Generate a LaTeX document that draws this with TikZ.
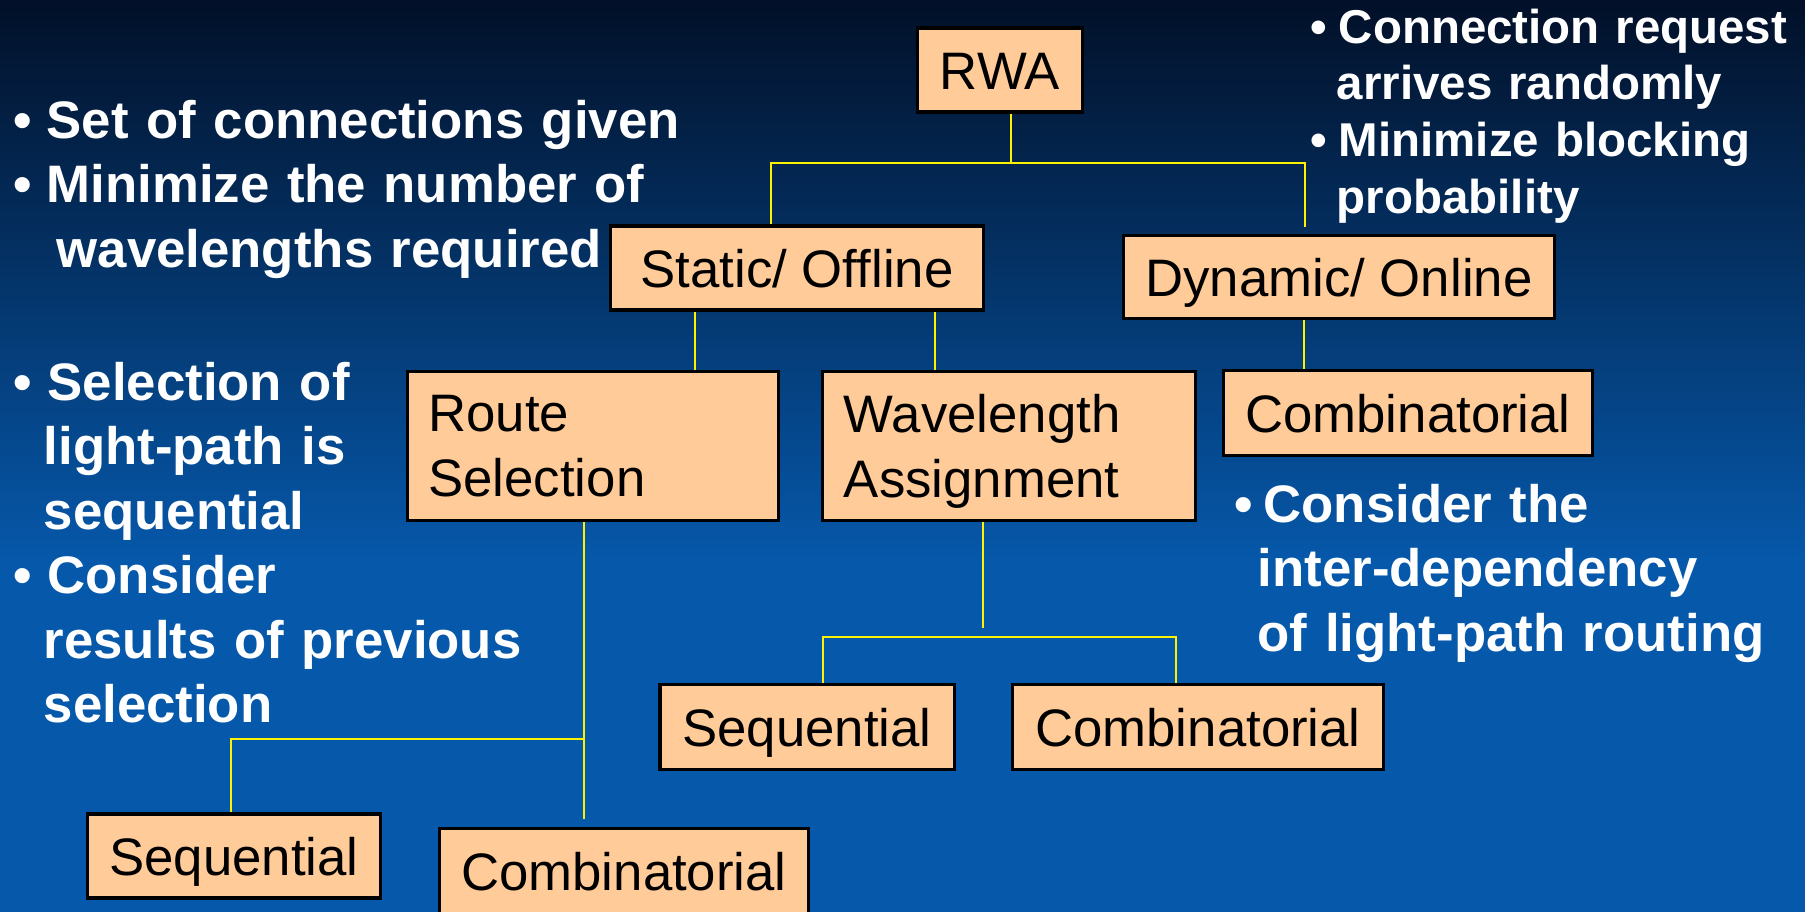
\documentclass[tikz,border=0pt]{standalone}
\usepackage{fontspec}
\setmainfont{Liberation Sans}
\definecolor{bgtop}{RGB}{2,16,40}
\definecolor{bgbot}{RGB}{6,88,170}
\definecolor{peach}{RGB}{255,204,153}
\newcommand\bul[1]{\makebox[#1][l]{•}}
\tikzset{
   box/.style={draw=black, line width=0.9pt, fill=peach, inner xsep=0.21cm, inner ysep=0pt,
      font=\fontsize{15}{18.35}\selectfont},
   box1/.style={box, text height=0.38cm, text depth=0pt},
   box2/.style={box, align=left, text depth=0.65cm, minimum height=1.49cm},
   link/.style={yellow, line width=0.6pt},
   note/.style={white, anchor=base west, inner sep=0pt, align=left, text width=9cm,
      font=\fontsize{15}{18.35}\selectfont\bfseries},
   smallnote/.style={note, font=\fontsize{13.5}{16.2}\selectfont\bfseries}
}
\begin{document}
\begin{tikzpicture}[x=0.01cm, y=-0.01cm]
   \useasboundingbox (0,0) rectangle (1805,912);
   \shade[top color=bgtop, bottom color=bgbot] (0,0) rectangle (1805,560);
   \fill[bgbot] (0,560) rectangle (1805,912);

   \node[box1, minimum width=1.65cm, minimum height=0.84cm] (rwa) at (1000,70) {RWA};
   \node[box1, minimum width=3.72cm, minimum height=0.84cm] (static) at (797,268) {Static/ Offline};
   \node[box1, minimum width=4.31cm, minimum height=0.83cm] (dyn) at (1339,277) {Dynamic/ Online};
   \node[box2, text width=3.29cm] (route) at (593,446) {Route\\Selection};
   \node[box2, text width=3.30cm] (wave) at (1009,446) {Wavelength\\Assignment};
   \node[box1, minimum width=3.69cm, minimum height=0.85cm] (combr) at (1408,413) {Combinatorial};
   \node[box1, minimum width=2.94cm, minimum height=0.85cm] (seqm) at (807,727) {Sequential};
   \node[box1, minimum width=3.70cm, minimum height=0.85cm] (combm) at (1198,727) {Combinatorial};
   \node[box1, minimum width=2.93cm, minimum height=0.84cm] (seqb) at (234,856) {Sequential};
   \node[box1, minimum width=3.69cm, minimum height=0.85cm] (combb) at (624,871) {Combinatorial};

   \coordinate (top) at (1011,163);
   \coordinate (tl) at (771,163);
   \coordinate (tr) at (1305,163);
   \coordinate (dyn in) at (1305,227);
   \draw[link] (top |- rwa.south) -- (top);
   \draw[link] (tl |- static.north) -- (tl) -- (tr) -- (dyn in);

   \coordinate (sl) at (695,340);
   \coordinate (sr) at (935,340);
   \coordinate (dl) at (1304,340);
   \draw[link] (sl |- static.south) -- (sl |- route.north);
   \draw[link] (sr |- static.south) -- (sr |- wave.north);
   \draw[link] (dl |- dyn.south) -- (dl |- combr.north);

   \coordinate (rj) at (584,739);
   \coordinate (rl) at (231,739);
   \coordinate (rend) at (584,819);
   \draw[link] (rj |- route.south) -- (rend);
   \draw[link] (rj) -- (rl) -- (rl |- seqb.north);

   \coordinate (wend) at (983,628);
   \coordinate (wl) at (823,637);
   \coordinate (wr) at (1176,637);
   \draw[link] (wend |- wave.south) -- (wend);
   \draw[link] (wl |- seqm.north) -- (wl) -- (wr) -- (wr |- combm.north);

   \node[note] (given) at (13,138) {\bul{0.33cm}Set of connections given\\
      \bul{0.33cm}Minimize the number of\\ \hspace*{0.43cm}wavelengths required};
   \node[note] (select) at (13,400) {\bul{0.34cm}Selection of\\ \hspace*{0.30cm}light-path is\\
      \hspace*{0.30cm}sequential\\ \bul{0.34cm}Consider\\ \hspace*{0.30cm}results of previous\\
      \hspace*{0.30cm}selection};
   \node[smallnote] (request) at (1310,43) {\bul{0.28cm}Connection request\\
      \hspace*{0.26cm}arrives randomly\\ \bul{0.28cm}Minimize blocking\\ \hspace*{0.26cm}probability};
   \node[note] (depend) at (1234,522) {\bul{0.29cm}Consider the\\ \hspace*{0.23cm}inter-dependency\\
      \hspace*{0.23cm}of light-path routing};
\end{tikzpicture}
\end{document}
